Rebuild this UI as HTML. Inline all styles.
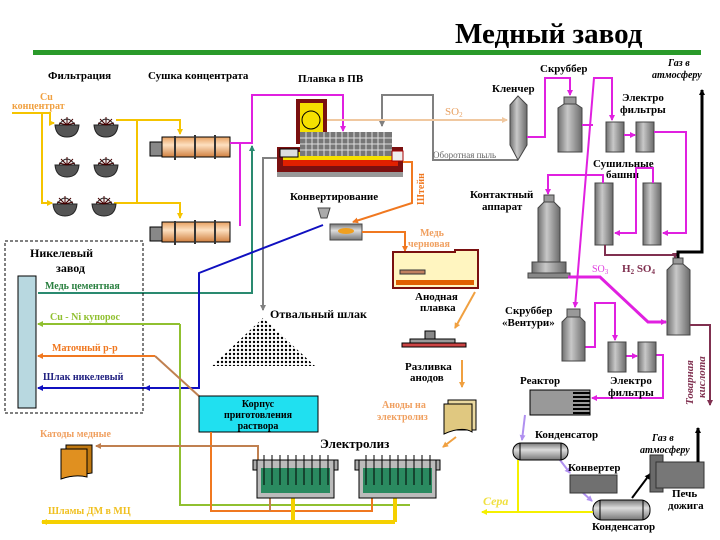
<!DOCTYPE html>
<html><head><meta charset="utf-8"><style>
html,body{margin:0;padding:0;background:#fff;}
svg{display:block;font-family:"Liberation Serif",serif;}
.b{font-weight:bold;font-size:11px;fill:#000;}
.s{font-size:10px;font-weight:bold;}
</style></head><body>
<svg width="720" height="540" viewBox="0 0 720 540" xmlns="http://www.w3.org/2000/svg">
<defs>
<marker id="a" markerWidth="6" markerHeight="6" refX="5" refY="3" orient="auto" markerUnits="userSpaceOnUse"><path d="M0,0 L6,3 L0,6z" fill="context-stroke"/></marker>
<linearGradient id="cyl" x1="0" x2="1"><stop offset="0" stop-color="#707070"/><stop offset=".4" stop-color="#c8c8c8"/><stop offset="1" stop-color="#6a6a6a"/></linearGradient>
<linearGradient id="cylh" x1="0" y1="0" x2="0" y2="1"><stop offset="0" stop-color="#777"/><stop offset=".4" stop-color="#ddd"/><stop offset="1" stop-color="#777"/></linearGradient>
<linearGradient id="dry" x1="0" y1="0" x2="0" y2="1"><stop offset="0" stop-color="#e8a060"/><stop offset=".4" stop-color="#fde0c0"/><stop offset="1" stop-color="#d08040"/></linearGradient>
<pattern id="dots" width="4" height="4" patternUnits="userSpaceOnUse"><rect width="4" height="4" fill="#fff"/><circle cx="2" cy="2" r="1.2" fill="#000"/></pattern>
<g id="f" fill="#555" stroke="#222" stroke-width="1"><path d="M0,8 H24 Q23,20 12,20 Q1,20 0,8z"/><path d="M4,8 Q12,-4 20,8z" fill="#eee"/><path d="M12,8 L6,2 M12,8 L12,0 M12,8 L18,2 M12,8 L4,6 M12,8 L20,6" stroke="#400"/></g>
<g id="cell">
<rect x="253" y="460" width="85" height="10" fill="#aaa" stroke="#000"/>
<rect x="257" y="460" width="77" height="38" fill="#bbb" stroke="#000"/>
<rect x="261" y="468" width="69" height="25" fill="#2a8a60"/>
<path d="M264,455v30M272,455v30M280,455v30M288,455v30M296,455v30M304,455v30M312,455v30M320,455v30M328,455v30" stroke="#000"/>
</g>
</defs>

<text x="455" y="43" font-size="29" font-weight="bold">Медный  завод</text>
<rect x="33" y="50" width="668" height="5" fill="#2a9a2a"/>

<text x="48" y="79" class="b">Фильтрация</text>
<text x="148" y="79" class="b">Сушка концентрата</text>
<text x="298" y="82" class="b">Плавка в ПВ</text>
<text x="40" y="100" class="s" fill="#f0a040">Cu</text>
<text x="12" y="109" class="s" fill="#f0a040">концентрат</text>

<g stroke="#f5c400" stroke-width="2" fill="none">
<path d="M12,113 H50 V123 H54" marker-end="url(#a)"/>
<path d="M42,113 V203 H52" marker-end="url(#a)"/>
<path d="M116,120 H180 V134" marker-end="url(#a)"/>
<path d="M137,120 V203"/>
<path d="M114,203 H180 V218" marker-end="url(#a)"/>
</g>
<use href="#f" x="94" y="117"/><use href="#f" x="55" y="117"/>
<use href="#f" x="55" y="157"/><use href="#f" x="94" y="157"/>
<use href="#f" x="53" y="196"/><use href="#f" x="92" y="196"/>

<g stroke="#000" stroke-width="1">
<rect x="150" y="142" width="14" height="14" fill="#888"/><rect x="162" y="137" width="68" height="20" fill="url(#dry)"/>
<path d="M175,136 v24 M195,135 v24 M215,135 v24" stroke="#333" stroke-width="2"/>
<rect x="150" y="227" width="14" height="14" fill="#888"/><rect x="162" y="222" width="68" height="20" fill="url(#dry)"/>
<path d="M175,221 v24 M195,220 v24 M215,220 v24" stroke="#333" stroke-width="2"/>
</g>
<g stroke="#e020e0" stroke-width="2" fill="none">
<path d="M230,143 H252 V95 H343 V131" marker-end="url(#a)"/>
<path d="M240,226 V143"/>
</g>
<path d="M38,293 H252 V146" stroke="#2a8a70" stroke-width="2" fill="none" marker-end="url(#a)"/>
<g stroke="#808080" stroke-width="2" fill="none">
<path d="M518,160 H433 V95 H382 V126" marker-end="url(#a)"/>
<path d="M280,158 H263 V310" marker-end="url(#a)"/>
</g>
<text x="433" y="158" font-size="9" fill="#666">Оборотная пыль</text>
<path d="M327,120 H507" stroke="#f0c8a0" stroke-width="2" fill="none" marker-end="url(#a)"/>
<text x="445" y="115" font-size="11" fill="#e8a060">SO<tspan font-size="7" dy="2">2</tspan></text>
<rect x="277" y="172" width="126" height="5" fill="#999"/>
<rect x="277" y="147" width="126" height="25" fill="#7a1010"/>
<rect x="283" y="152" width="115" height="14" fill="#f5e000"/>
<rect x="283" y="160" width="115" height="6" fill="#e02000"/>
<rect x="296" y="99" width="31" height="45" fill="#7a1010"/>
<rect x="300" y="103" width="23" height="39" fill="#f5e000"/>
<circle cx="311" cy="120" r="9" fill="#f5e000" stroke="#000"/>
<rect x="300" y="132" width="92" height="24" fill="#777"/>
<g stroke="#ddd" stroke-width="1">
<path d="M300,138 H392 M300,144 H392 M300,150 H392"/>
<path d="M306,132v24M312,132v24M318,132v24M324,132v24M330,132v24M336,132v24M342,132v24M348,132v24M354,132v24M360,132v24M366,132v24M372,132v24M378,132v24M384,132v24"/>
</g>
<rect x="392" y="151" width="11" height="10" fill="#eee" stroke="#a00"/>
<rect x="280" y="149" width="18" height="8" fill="#ddd" stroke="#000"/>
<path d="M403,162 H412 V203 L353,222" stroke="#f07820" stroke-width="2" fill="none" marker-end="url(#a)"/>
<text transform="translate(424,205) rotate(-90)" font-size="10" font-weight="bold" fill="#f07820">Штейн</text>
<text x="290" y="200" class="b">Конвертирование</text>
<path d="M318,208 h12 l-3,10 h-6z" fill="#aaa" stroke="#444"/>
<rect x="330" y="224" width="32" height="16" fill="url(#cylh)" stroke="#444"/>
<ellipse cx="346" cy="231" rx="8" ry="3" fill="#f0a020"/>
<path d="M362,232 H405 V251" stroke="#f07820" stroke-width="2" fill="none" marker-end="url(#a)"/>
<text x="420" y="236" font-size="10" font-weight="bold" fill="#f0a060">Медь</text>
<text x="408" y="247" font-size="10" font-weight="bold" fill="#f0a060">черновая</text>
<path d="M393,252 H455 V250 H478 V288 H393z" fill="#fff5c0" stroke="#7a1010" stroke-width="2"/>
<rect x="396" y="280" width="78" height="5" fill="#e06000"/>
<rect x="400" y="270" width="25" height="4" fill="#c08060" stroke="#333"/>
<text x="415" y="300" class="b">Анодная</text>
<text x="420" y="311" class="b">плавка</text>
<path d="M475,292 L455,328" stroke="#f0a040" stroke-width="2" marker-end="url(#a)"/>
<rect x="425" y="331" width="10" height="10" fill="#888" stroke="#000"/>
<rect x="410" y="339" width="45" height="4" fill="#999" stroke="#000"/>
<rect x="402" y="343" width="64" height="4" fill="#c44" stroke="#000"/>
<text x="405" y="370" class="b">Разливка</text>
<text x="410" y="381" class="b">анодов</text>
<path d="M462,360 V387" stroke="#f0a040" stroke-width="2" marker-end="url(#a)"/>
<path d="M448,400 h28 v30 h-28z" fill="#ead9a0" stroke="#000"/>
<path d="M444,404 h28 v28 q-10,-6 -28,2z" fill="#e0c880" stroke="#000"/>
<text x="382" y="408" font-size="10" font-weight="bold" fill="#f0a060">Аноды на</text>
<text x="377" y="420" font-size="10" font-weight="bold" fill="#f0a060">электролиз</text>
<path d="M456,437 L443,447" stroke="#f0a040" stroke-width="2" marker-end="url(#a)"/>

<path d="M323,225 L199,273 V388 H38" stroke="#1010c0" stroke-width="2" fill="none" marker-end="url(#a)"/>
<path d="M160,388 H145" stroke="#1010c0" stroke-width="2" marker-end="url(#a)"/>
<rect x="5" y="241" width="138" height="172" fill="none" stroke="#000" stroke-dasharray="3,2"/>
<text x="30" y="257" font-size="12" font-weight="bold">Никелевый</text>
<text x="56" y="272" font-size="12" font-weight="bold">завод</text>
<rect x="18" y="276" width="18" height="132" fill="#b8d8e0" stroke="#000"/>
<text x="45" y="289" font-size="10" font-weight="bold" fill="#2a8040">Медь цементная</text>
<text x="50" y="320" font-size="10" font-weight="bold" fill="#90c030">Cu - Ni  купорос</text>
<text x="52" y="351" font-size="10" font-weight="bold" fill="#f07820">Маточный р-р</text>
<text x="43" y="380" font-size="10" font-weight="bold" fill="#202080">Шлак никелевый</text>
<path d="M180,324 H38" stroke="#90c030" stroke-width="2" fill="none" marker-end="url(#a)"/>
<path d="M180,324 V505 H410" stroke="#90c030" stroke-width="2" fill="none"/>
<path d="M155,356 H38" stroke="#f07820" stroke-width="2" fill="none" marker-end="url(#a)"/>
<path d="M155,356 L200,397" stroke="#c08050" stroke-width="2"/>
<rect x="199" y="396" width="119" height="36" fill="#20e0f0" stroke="#000"/>
<text x="258" y="407" text-anchor="middle" class="s">Корпус</text>
<text x="258" y="418" text-anchor="middle" class="s">приготовления</text>
<text x="258" y="429" text-anchor="middle" class="s">раствора</text>
<path d="M211,432 V511 H372 V498" stroke="#f07820" stroke-width="2" fill="none"/>
<path d="M270,498 V511" stroke="#c08050" stroke-width="2"/>
<path d="M258,460 V446 H96" stroke="#c08050" stroke-width="2" fill="none" marker-end="url(#a)"/>
<text x="40" y="437" font-size="10" font-weight="bold" fill="#f0a060">Катоды медные</text>
<path d="M66,445 h26 v28 l-26,4z" fill="#c07810" stroke="#000"/>
<path d="M61,449 h26 v28 q-12,-3 -26,2z" fill="#e09020" stroke="#000"/>
<path d="M42,522 H395" stroke="#f5d000" stroke-width="4" fill="none"/>
<path d="M52,522 L42,522" stroke="#f5d000" stroke-width="4" marker-end="url(#a)"/>
<path d="M293,498 V522 M395,498 V522" stroke="#f5d000" stroke-width="4"/>
<text x="48" y="514" font-size="10" font-weight="bold" fill="#f0c020">Шламы ДМ в МЦ</text>
<text x="320" y="448" font-size="13" font-weight="bold">Электролиз</text>
<use href="#cell"/>
<use href="#cell" x="102"/>
<text x="270" y="318" font-size="12" font-weight="bold">Отвальный шлак</text>
<path d="M263,318 L315,366 H212z" fill="url(#dots)"/>

<text x="492" y="92" class="b">Кленчер</text>
<path d="M510,105 L518,96 L527,105 V145 L518,160 L510,145z" fill="url(#cyl)" stroke="#444"/>
<text x="540" y="72" class="b">Скруббер</text>
<rect x="564" y="97" width="12" height="8" fill="#999" stroke="#444"/>
<path d="M558,108 L564,104 H576 L582,108 V152 H558z" fill="url(#cyl)" stroke="#444"/>
<text x="622" y="101" class="b">Электро</text>
<text x="620" y="113" class="b">фильтры</text>
<rect x="606" y="122" width="18" height="30" fill="url(#cyl)" stroke="#444"/>
<rect x="636" y="122" width="18" height="30" fill="url(#cyl)" stroke="#444"/>
<text x="593" y="167" class="b">Сушильные</text>
<text x="606" y="178" class="b">башни</text>
<rect x="595" y="183" width="18" height="62" fill="url(#cyl)" stroke="#444"/>
<rect x="643" y="183" width="18" height="62" fill="url(#cyl)" stroke="#444"/>
<text x="470" y="198" class="b">Контактный</text>
<text x="482" y="210" class="b">аппарат</text>
<rect x="544" y="195" width="10" height="7" fill="#999" stroke="#444"/>
<path d="M538,208 L544,202 H554 L560,208 V262 H538z" fill="url(#cyl)" stroke="#444"/>
<rect x="532" y="262" width="34" height="12" fill="url(#cyl)" stroke="#444"/>
<rect x="528" y="273" width="42" height="5" fill="#888" stroke="#444"/>
<g stroke="#e020e0" stroke-width="2" fill="none">
<path d="M527,137 H545 V78 H570 V95" marker-end="url(#a)"/>
<path d="M582,125 H593"/>
<path d="M593,78 H612 V120" marker-end="url(#a)"/>
<path d="M594,78 L575,307" marker-end="url(#a)"/>
<path d="M624,135 H635" marker-end="url(#a)"/>
<path d="M654,132 H686 V233 H663" marker-end="url(#a)"/>
<path d="M653,183 V168 H636 V233 H615" marker-end="url(#a)"/>
<path d="M603,183 V175 H548 V194" marker-end="url(#a)"/>
<path d="M585,347 H595 V303 H615 V340" marker-end="url(#a)"/>
<path d="M626,356 H637" marker-end="url(#a)"/>
<path d="M656,355 H663 V398 H592" marker-end="url(#a)"/>
</g>
<path d="M568,277 H600 L648,322 H666" stroke="#e020e0" stroke-width="3" fill="none" marker-end="url(#a)"/>
<text x="592" y="272" font-size="10" fill="#e040e0">SO<tspan font-size="7" dy="2">3</tspan></text>
<text x="622" y="272" font-size="11" font-weight="bold" fill="#803050">H<tspan font-size="7" dy="2">2</tspan><tspan dy="-2"> SO</tspan><tspan font-size="7" dy="2">4</tspan></text>
<path d="M605,245 V255 H675 V258" stroke="#803050" stroke-width="2" fill="none" marker-end="url(#a)"/>
<rect x="673" y="258" width="10" height="7" fill="#999" stroke="#444"/>
<path d="M667,270 L673,264 H683 L690,270 V335 H667z" fill="url(#cyl)" stroke="#444"/>
<path d="M678,258 V252 H702 V90" stroke="#000" stroke-width="3" fill="none" marker-end="url(#a)"/>
<text x="668" y="66" font-size="10" font-style="italic" font-weight="bold">Газ в</text>
<text x="652" y="78" font-size="10" font-style="italic" font-weight="bold">атмосферу</text>
<path d="M690,325 H710 V405" stroke="#803050" stroke-width="2" fill="none" marker-end="url(#a)"/>
<text transform="translate(693,405) rotate(-90)" font-size="11" font-style="italic" font-weight="bold" fill="#803050">Товарная</text>
<text transform="translate(705,398) rotate(-90)" font-size="11" font-style="italic" font-weight="bold" fill="#803050">кислота</text>
<text x="505" y="314" class="b">Скруббер</text>
<text x="502" y="326" class="b">«Вентури»</text>
<rect x="567" y="309" width="13" height="8" fill="#999" stroke="#444"/>
<path d="M562,322 L567,317 H580 L585,322 V361 H562z" fill="url(#cyl)" stroke="#444"/>
<rect x="608" y="342" width="18" height="30" fill="url(#cyl)" stroke="#444"/>
<rect x="638" y="342" width="18" height="30" fill="url(#cyl)" stroke="#444"/>
<text x="610" y="384" class="b">Электро</text>
<text x="608" y="396" class="b">фильтры</text>
<text x="520" y="384" class="b">Реактор</text>
<rect x="530" y="390" width="60" height="25" fill="#999" stroke="#000"/>
<g stroke="#000" stroke-width="2"><path d="M573,393 H590 M573,397 H590 M573,401 H590 M573,405 H590 M573,409 H590 M573,413 H590"/></g>
<g stroke="#b090f0" stroke-width="2" fill="none">
<path d="M525,415 L522,440" marker-end="url(#a)"/>
<path d="M560,460 L570,473" marker-end="url(#a)"/>
<path d="M582,492 L592,501" marker-end="url(#a)"/>
</g>
<rect x="513" y="443" width="55" height="17" rx="8" fill="url(#cylh)" stroke="#000"/>
<path d="M520,443 v17 M561,443 v17" stroke="#000"/>
<text x="535" y="438" class="b">Конденсатор</text>
<text x="568" y="471" class="b">Конвертер</text>
<rect x="570" y="475" width="47" height="18" fill="#707070" stroke="#333"/>
<rect x="593" y="500" width="57" height="20" rx="9" fill="url(#cylh)" stroke="#000"/>
<path d="M600,500 v20 M643,500 v20" stroke="#000"/>
<text x="592" y="530" class="b">Конденсатор</text>
<path d="M632,498 L650,474" stroke="#000" stroke-width="2" marker-end="url(#a)"/>
<rect x="650" y="455" width="13" height="37" fill="#6a6a6a" stroke="#333"/>
<rect x="656" y="462" width="48" height="26" fill="#777" stroke="#333"/>
<path d="M698,462 V428" stroke="#000" stroke-width="3" marker-end="url(#a)"/>
<text x="652" y="441" font-size="10" font-style="italic" font-weight="bold">Газ в</text>
<text x="640" y="453" font-size="10" font-style="italic" font-weight="bold">атмосферу</text>
<text x="672" y="497" class="b">Печь</text>
<text x="668" y="509" class="b">дожига</text>
<path d="M518,460 V512 H593 M518,512 H482" stroke="#f5f000" stroke-width="2" fill="none" marker-end="url(#a)"/>
<text x="483" y="505" font-size="12" font-style="italic" font-weight="bold" fill="#f0e040">Сера</text>
</svg>
</body></html>
